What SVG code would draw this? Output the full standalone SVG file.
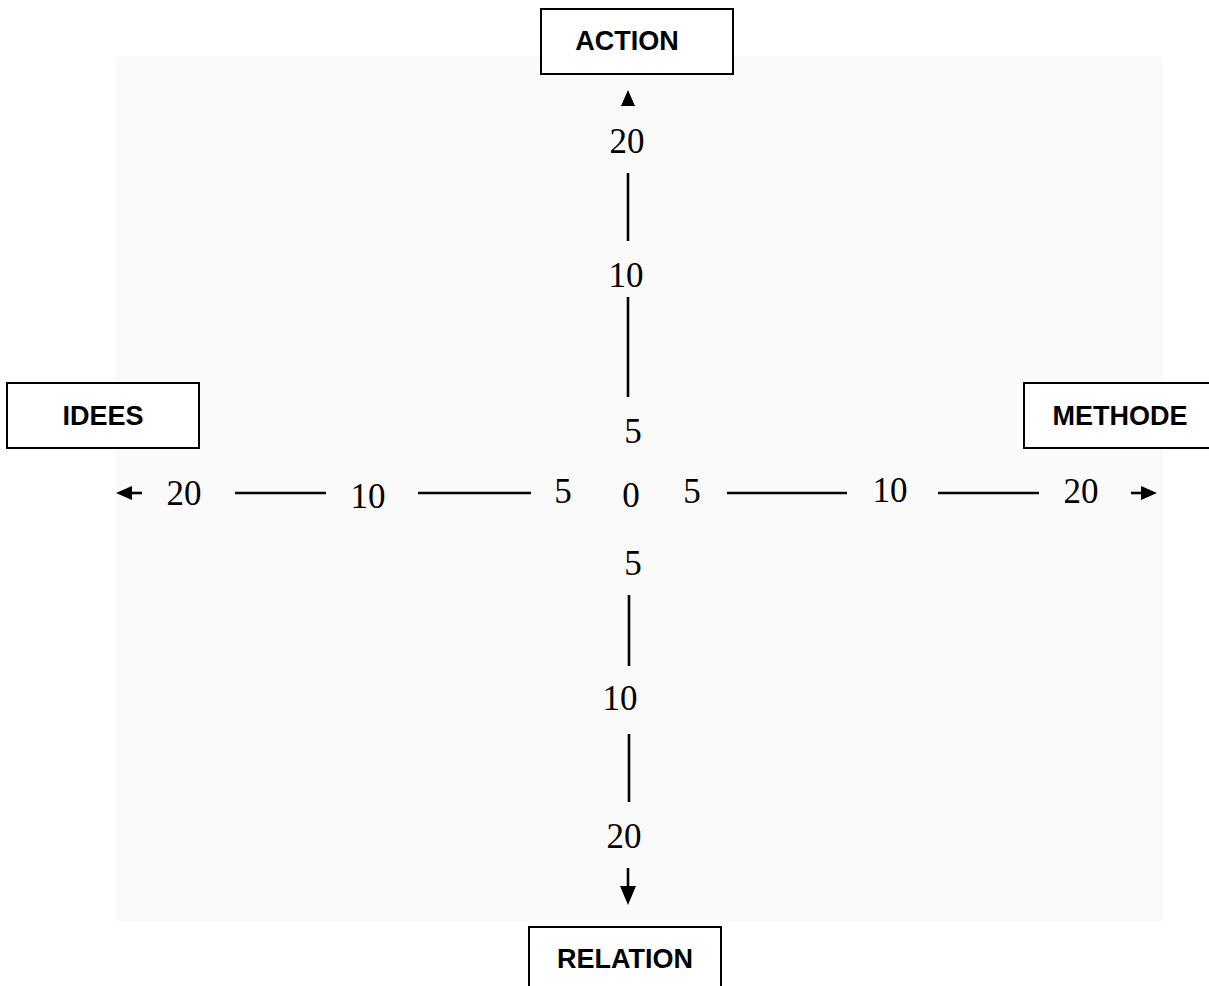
<svg xmlns="http://www.w3.org/2000/svg" width="1209" height="986" viewBox="0 0 1209 986">
<style>
.box{fill:#fff;stroke:#000;stroke-width:2}
.lbl{font-family:"Liberation Sans",Arial,sans-serif;font-weight:bold;font-size:27px;text-anchor:middle;fill:#000}
.num{font-family:"Liberation Serif","Times New Roman",serif;font-size:35px;text-anchor:middle;fill:#000}
.ax{stroke:#000;stroke-width:2.6;fill:none}
.head{fill:#000}
</style>
<rect x="115" y="57" width="1048" height="864" fill="#fafafa"/>
<g id="node-action"><rect class="box" x="541" y="9" width="192" height="65"/><text class="lbl" x="627" y="50">ACTION</text></g>
<g id="node-idees"><rect class="box" x="7" y="383" width="192" height="65"/><text class="lbl" x="103" y="425">IDEES</text></g>
<g id="node-methode"><rect class="box" x="1024" y="383" width="190" height="65"/><text class="lbl" x="1120" y="425">METHODE</text></g>
<g id="node-relation"><rect class="box" x="529" y="927" width="192" height="70"/><text class="lbl" x="625" y="968">RELATION</text></g>
<g id="connectors">
<line class="ax" x1="628" y1="173" x2="628" y2="241"/>
<line class="ax" x1="628" y1="297" x2="628" y2="397"/>
<line class="ax" x1="629" y1="595" x2="629" y2="666"/>
<line class="ax" x1="629" y1="734" x2="629" y2="802"/>
<line class="ax" x1="235" y1="493" x2="326" y2="493"/>
<line class="ax" x1="418" y1="493" x2="531" y2="493"/>
<line class="ax" x1="727" y1="493" x2="847" y2="493"/>
<line class="ax" x1="938" y1="493" x2="1039" y2="493"/>
<polygon class="head" points="628,90 621,106 635,106"/>
<line class="ax" x1="628" y1="868" x2="628" y2="888"/>
<polygon class="head" points="628,905 620,886 636,886"/>
<line class="ax" x1="128" y1="493" x2="142" y2="493"/>
<polygon class="head" points="116,493 132,486 132,500"/>
<line class="ax" x1="1131" y1="493" x2="1145" y2="493"/>
<polygon class="head" points="1157,493 1141,486 1141,500"/>
</g>
<g id="labels">
<text class="num" x="627" y="153">20</text>
<text class="num" x="626" y="287">10</text>
<text class="num" x="633" y="443">5</text>
<text class="num" x="184" y="505">20</text>
<text class="num" x="368" y="508">10</text>
<text class="num" x="563" y="503">5</text>
<text class="num" x="631" y="507">0</text>
<text class="num" x="692" y="503">5</text>
<text class="num" x="890" y="502">10</text>
<text class="num" x="1081" y="503">20</text>
<text class="num" x="633" y="575">5</text>
<text class="num" x="620" y="710">10</text>
<text class="num" x="624" y="848">20</text>
</g>
</svg>
